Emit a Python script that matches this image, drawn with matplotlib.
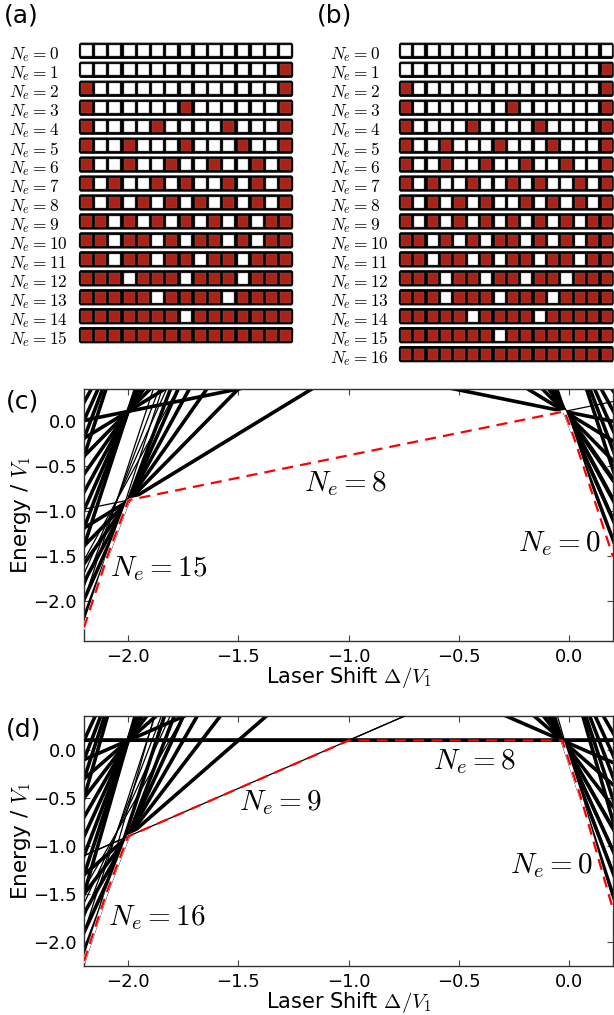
import numpy as np
import matplotlib
matplotlib.use("Agg")
import matplotlib.pyplot as plt
from matplotlib.patches import FancyBboxPatch, Rectangle

plt.rcParams["font.family"] = ["DejaVu Sans"]
plt.rcParams["mathtext.fontset"] = "cm"

# ---------------- data ----------------
# occupation of each site (1 = filled) for N_e = 0, 1, 2, ...
occ_a = [
    "000000000000000",
    "000000000000001",
    "100000000000001",
    "100000010000001",
    "100001000010001",
    "100100010001001",
    "100100100100101",
    "101001010010101",
    "101010101010101",
    "110101010101011",
    "110110101101011",
    "110110110110111",
    "111011101110111",
    "111110111101111",
    "111111101111111",
    "111111111111111",
]
occ_b = [
    "0000000000000000",
    "0000000000000001",
    "1000000000000001",
    "1000000010000001",
    "1000010000100001",
    "1001000100010001",
    "1001001001001001",
    "1010010010100101",
    "1010101001010101",
    "1010101010101011",
    "1101010110101011",
    "1101101011011011",
    "1110110110110111",
    "1110111011101111",
    "1111101111011111",
    "1111111011111111",
    "1111111111111111",
]

# energy levels: E = e0 + (N_e - L/2) * Delta, e0 = energy at Delta = 0
# panel (c), L = 15
c_ground_n = [0, 1, 2, 3, 4, 5, 6, 7, 8, 9, 10, 11, 12, 13, 14, 15]
c_ground_e0 = [-0.01, -0.02, 0.00, 0.02, 0.04, 0.06, 0.08, 0.10, 0.12,
               2.11, 4.11, 6.11, 8.11, 10.11, 12.11, 14.20]
c_thin_n = [0, 8, 15, 2, 3, 4, 12, 13, 14, 15]
c_thin_e0 = [-0.01, 0.12, 14.20, 0.04, 0.06, 0.08, 8.35, 10.40, 12.45, 14.50]
c_exc_n = [0, 1, 2, 3, 4, 8, 9, 10, 11, 12, 13, 14, 15, 12, 13, 14, 15]
c_exc_e0 = [0.96, 0.98, 1.00, 1.02, 1.04, 1.11, 3.11, 5.11, 7.11, 9.11,
            11.11, 13.11, 15.11, 10.11, 12.11, 14.11, 16.11]

# panel (d), L = 16
d_ground_n = [0, 1, 2, 3, 4, 5, 6, 7, 8, 9, 10, 11, 12, 13, 14, 15, 16]
d_ground_e0 = [-0.06, -0.11, -0.08, -0.05, -0.02, 0.01, 0.04, 0.07, 0.10,
               1.10, 3.10, 5.10, 7.10, 9.10, 11.10, 13.20, 15.40]
d_thin_n = [0, 9, 16, 2, 3, 4, 12, 13, 14, 15]
d_thin_e0 = [-0.06, 1.10, 15.40, -0.05, -0.02, 0.01, 7.35, 9.40, 11.45, 13.50]
d_exc_n = [0, 1, 2, 3, 4, 9, 10, 11, 12, 13, 14, 15, 16, 13, 14, 15, 16]
d_exc_e0 = [0.86, 0.89, 0.92, 0.95, 0.98, 2.10, 4.10, 6.10, 8.10, 10.10,
            12.10, 14.10, 16.10, 11.10, 13.10, 15.10, 17.10]

RED = "#ad2216"
W, H = 614, 1015


def px_axes(fig, x0, y0, x1, y1):
    return fig.add_axes([x0 / W, 1 - y1 / H, (x1 - x0) / W, (y1 - y0) / H])


def draw_grid(ax, occ, label_x):
    L = len(occ[0])
    for i, row in enumerate(occ):
        ax.add_patch(FancyBboxPatch((0.05, i - 0.36), L - 0.1, 0.72,
                                    boxstyle="round,pad=0.04,rounding_size=0.12",
                                    fc="black", ec="black", lw=0.8))
        for j, s in enumerate(row):
            ax.add_patch(Rectangle((j + 0.12, i - 0.29), 0.76, 0.58,
                                   fc=RED if s == "1" else "white",
                                   ec="#666666", lw=0.3))
        ax.text(label_x, i + 0.08, r"$N_e = %d$" % i, fontsize=12.5,
                ha="left", va="center_baseline")
    ax.set_axis_off()


def draw_levels(ax, half, ground_n, ground_e0, thin_n, thin_e0,
                exc_n, exc_e0, ylim, keep_black):
    xs = np.array([-2.3, 0.3])
    for n, e0 in zip(ground_n, ground_e0):
        if n in thin_n and e0 in [t for m, t in zip(thin_n, thin_e0) if m == n]:
            continue
        ax.plot(xs, e0 + (n - half) * xs, color="black", lw=2.6, zorder=2)
    for n, e0 in zip(exc_n, exc_e0):
        ax.plot(xs, e0 + (n - half) * xs, color="black", lw=2.6, zorder=2)
    for n, e0 in zip(thin_n, thin_e0):
        ax.plot(xs, e0 + (n - half) * xs, color="black", lw=0.9, zorder=2)

    dx = np.linspace(-2.2, 0.2, 2401)
    env = np.min([e0 + (n - half) * dx for n, e0 in zip(ground_n, ground_e0)],
                 axis=0)
    ax.plot(dx, env, color="white", lw=2.2, zorder=3)
    for n in keep_black:
        e0 = ground_e0[ground_n.index(n)]
        lw = 2.2 if n == half else 0.9
        ax.plot(xs, e0 + (n - half) * xs, color="black", lw=lw, zorder=3.5)
    ax.plot(dx, env, color="red", lw=1.6, ls=(0, (5, 3.2)), zorder=4)

    ax.set_xlim(-2.2, 0.2)
    ax.set_ylim(*ylim)
    ax.set_xticks([-2.0, -1.5, -1.0, -0.5, 0.0])
    ax.set_yticks([-2.0, -1.5, -1.0, -0.5, 0.0])
    ax.tick_params(direction="in", top=True, right=True, length=4,
                   width=0.8, labelsize=13, color="#444444", pad=5)
    for sp in ax.spines.values():
        sp.set_linewidth(1.0)
        sp.set_color("#333333")
    ax.set_xlabel(r"Laser Shift $\Delta/V_1$", fontsize=15, labelpad=-1)
    ax.set_ylabel(r"Energy / $V_1$", fontsize=15.5, labelpad=0)


fig = plt.figure(figsize=(W / 100, H / 100), dpi=100)

ax_a = px_axes(fig, 0, 0, 307, 370)
ax_a.set_xlim(-5.573, 16.0)
ax_a.set_ylim(16.835, -2.679)
draw_grid(ax_a, occ_a, -4.94)

ax_b = px_axes(fig, 307, 0, 614, 370)
ax_b.set_xlim(-6.901, 16.053)
ax_b.set_ylim(16.835, -2.679)
draw_grid(ax_b, occ_b, -5.18)

ax_c = px_axes(fig, 84, 389, 613, 641)
draw_levels(ax_c, 7.5, c_ground_n, c_ground_e0, c_thin_n, c_thin_e0,
            c_exc_n, c_exc_e0, (-2.45, 0.36), [])
ax_c.text(-1.015, -0.69, r"$N_e = 8$", fontsize=21, ha="center", va="center")
ax_c.text(-1.861, -1.64, r"$N_e = 15$", fontsize=21, ha="center", va="center")
ax_c.text(-0.043, -1.36, r"$N_e = 0$", fontsize=21, ha="center", va="center")

ax_d = px_axes(fig, 84, 716, 613, 966)
draw_levels(ax_d, 8, d_ground_n, d_ground_e0, d_thin_n, d_thin_e0,
            d_exc_n, d_exc_e0, (-2.25, 0.355), [8, 9])
ax_d.text(-0.426, -0.12, r"$N_e = 8$", fontsize=21, ha="center", va="center")
ax_d.text(-1.307, -0.55, r"$N_e = 9$", fontsize=21, ha="center", va="center")
ax_d.text(-0.079, -1.20, r"$N_e = 0$", fontsize=21, ha="center", va="center")
ax_d.text(-1.87, -1.75, r"$N_e = 16$", fontsize=21, ha="center", va="center")

for lab, x, y in [("(a)", 4, 16), ("(b)", 317, 16), ("(c)", 6, 401), ("(d)", 6, 729)]:
    fig.text(x / W, 1 - y / H, lab, fontsize=18, ha="left", va="center")

fig.savefig("out.png", dpi=100)
